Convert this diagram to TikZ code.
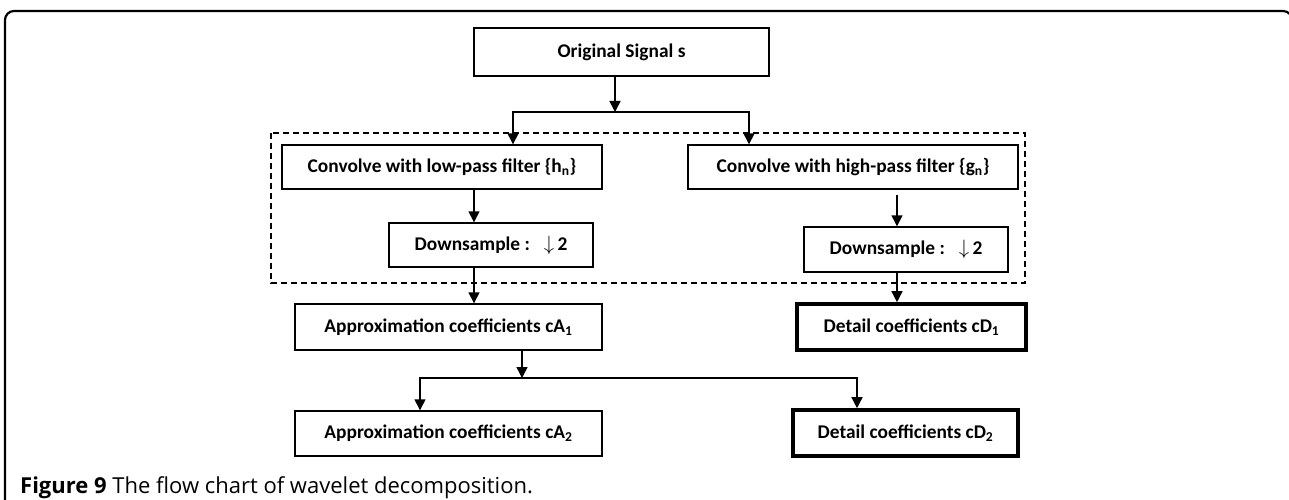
\documentclass[tikz,border=0pt]{standalone}
\usepackage{fontspec}
\setmainfont{Carlito}
\newfontfamily\capfont{Open Sans}
\usetikzlibrary{arrows.meta}
\begin{document}
\begin{tikzpicture}[x=1pt,y=-1pt,
  box/.style={draw,line width=1.4pt,minimum height=#1,inner sep=0pt,font=\bfseries\fontsize{19.4}{23}\selectfont},
  box/.default=44pt,
  thickbox/.style={box=46pt,line width=3.6pt},
  arr/.style={line width=1.4pt,-{Triangle[width=11pt,length=11pt]}},
  conn/.style={line width=1.4pt}]
\useasboundingbox (0,0) rectangle (1289,500);
% outer frame
\draw[line width=2.2pt,rounded corners=9pt] (5,505) -- (5,11) -- (1292,11) -- (1292,505);
% dashed group
\draw[line width=1.3pt,dash pattern=on 6pt off 4pt] (271,133) rectangle (1025,283);
% nodes
\node[box=48pt,minimum width=295pt] (orig) at (621.5,52) {Original Signal s};
\node[box,minimum width=320pt] (low) at (442,167) {Convolve with low-pass filter \{h\textsubscript{n}\}};
\node[box,minimum width=330pt] (high) at (853,167) {Convolve with high-pass filter \{g\textsubscript{n}\}};
\node[box,minimum width=204pt] (dsl) at (491,245) {Downsample :\hspace{14pt}$\downarrow$\,2};
\node[box=45pt,minimum width=204pt] (dsh) at (906,249.5) {Downsample :\hspace{14pt}$\downarrow$\,2};
\node[box=46pt,minimum width=307pt] (ca1) at (448.5,327) {Approximation coefficients cA\textsubscript{1}};
\node[thickbox,minimum width=229pt] (cd1) at (911.5,327) {Detail coefficients cD\textsubscript{1}};
\node[box=45pt,minimum width=307pt] (ca2) at (448.5,433.5) {Approximation coefficients cA\textsubscript{2}};
\node[thickbox,minimum width=225pt] (cd2) at (905.5,433) {Detail coefficients cD\textsubscript{2}};
% junctions
\coordinate (j1) at (615,112);
\coordinate (j2) at (522,378);
% connectors
\draw[arr] (orig.south -| j1) -- (j1);
\draw[arr] (j1) -| ([xshift=71pt]low.north);
\draw[arr] (j1) -| ([xshift=-104pt]high.north);
\draw[arr] ([xshift=32pt]low.south) -- ([xshift=32pt]low.south |- dsl.north);
\draw[arr,shorten <=5pt] ([xshift=44pt]high.south) -- ([xshift=44pt]high.south |- dsh.north);
\draw[arr] ([xshift=-17pt]dsl.south) -- ([xshift=-17pt]dsl.south |- ca1.north);
\draw[arr] ([xshift=-9pt]dsh.south) -- ([xshift=-9pt]dsh.south |- cd1.north);
\draw[arr] (ca1.south -| j2) -- (j2);
\draw[arr] (j2) -| ([xshift=-28.5pt]ca2.north);
\draw[arr] (j2) -| ([xshift=-48.5pt]cd2.north);
% caption
\node[anchor=base west,inner sep=0pt,font=\capfont\fontsize{22}{26}\selectfont] (cap) at (20,493) {\textbf{Figure 9} The flow chart of wavelet decomposition.};
\end{tikzpicture}
\end{document}
